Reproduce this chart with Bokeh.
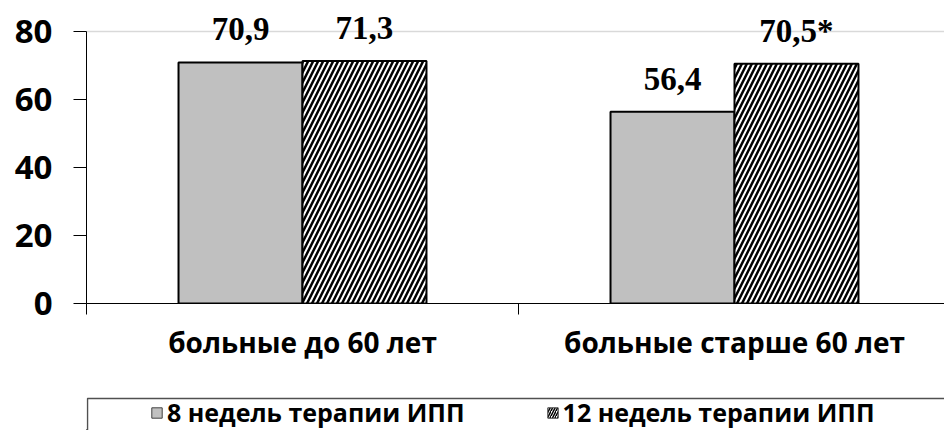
from bokeh.plotting import figure
from bokeh.models import (Range1d, FixedTicker, ColumnDataSource, LabelSet,
                          Legend, LegendItem)
from bokeh.layouts import column
from bokeh.embed import file_html
from bokeh.resources import INLINE

# ---- data ----
categories = ["больные до 60 лет", "больные старше 60 лет"]
series = ["8 недель терапии ИПП", "12 недель терапии ИПП"]
values_8w = [70.9, 56.4]
values_12w = [71.3, 70.5]
marks_8w = ["", ""]
marks_12w = ["", "*"]
y_ticks = [0, 20, 40, 60, 80]

SANS = "Open Sans"
SERIF = "Liberation Serif"
BAR_W = 0.287

n = len(categories)
centers = [i + 0.5 for i in range(n)]

p = figure(width=944, height=394, x_range=Range1d(0, 858 / 432),
           y_range=Range1d(0, 303 / 3.4), output_backend="svg",
           toolbar_location=None,
           min_border_left=86, min_border_right=0, min_border_top=0,
           min_border_bottom=91)
p.outline_line_color = None
p.xgrid.visible = False
p.ygrid.ticker = FixedTicker(ticks=[80])
p.ygrid.grid_line_color = "#d9d9d9"
p.ygrid.grid_line_width = 1.5

def fmt(v, m):
    return f"{v:.1f}".replace(".", ",") + m

src8 = ColumnDataSource(dict(x=[c - BAR_W / 2 for c in centers], top=values_8w,
                             lab=[fmt(v, m) for v, m in zip(values_8w, marks_8w)]))
src12 = ColumnDataSource(dict(x=[c + BAR_W / 2 for c in centers], top=values_12w,
                              lab=[fmt(v, m) for v, m in zip(values_12w, marks_12w)]))

p.vbar(x="x", top="top", width=BAR_W, source=src8, fill_color="#c0c0c0",
       line_color="black", line_width=2)
p.vbar(x="x", top="top", width=BAR_W, source=src12, fill_color="white",
       line_color="black", line_width=2, hatch_pattern="/", hatch_color="black",
       hatch_weight=2.5, hatch_scale=10)

for s in (src8, src12):
    p.add_layout(LabelSet(x="x", y="top", text="lab", source=s, y_offset=22,
                          text_align="center", text_baseline="alphabetic",
                          text_font=SERIF, text_font_style="bold",
                          text_font_size="33px", text_color="black"))

# x axis
xa = p.xaxis[0]
xa.ticker = FixedTicker(ticks=centers, minor_ticks=[0, 1, 2])
xa.major_label_overrides = {c: cat for c, cat in zip(centers, categories)}
xa.major_tick_line_color = None
xa.major_tick_out = 0
xa.major_tick_in = 0
xa.minor_tick_line_color = "black"
xa.minor_tick_out = 11
xa.minor_tick_in = 0
xa.axis_line_color = "black"
xa.major_label_standoff = 8
xa.major_label_text_font = SANS
xa.major_label_text_font_style = "bold"
xa.major_label_text_font_size = "28px"
xa.major_label_text_color = "black"

# y axis
ya = p.yaxis[0]
ya.ticker = FixedTicker(ticks=y_ticks)
ya.bounds = (0, 80)
ya.major_tick_out = 13
ya.major_tick_in = 0
ya.minor_tick_line_color = None
ya.axis_line_color = "black"
ya.major_tick_line_color = "black"
ya.major_label_standoff = 21
ya.major_label_text_font = SANS
ya.major_label_text_font_style = "bold"
ya.major_label_text_font_size = "33px"
ya.major_label_text_color = "black"

# ---- legend strip ----
p2 = figure(width=944, height=36, x_range=Range1d(86, 944), y_range=Range1d(0, 36),
            output_backend="svg", toolbar_location=None,
            x_axis_location=None, y_axis_location=None,
            min_border_left=86, min_border_right=0, min_border_top=0,
            min_border_bottom=0)
p2.outline_line_color = None
p2.grid.visible = False
p2.quad(left=[87], right=[1200], top=[32], bottom=[-30], fill_color="white",
        line_color="#505050", line_width=1.5)
d8 = p2.vbar(x=[0], top=[1], width=1, fill_color="#c0c0c0", line_color="#404040",
             line_width=1)
d12 = p2.vbar(x=[0], top=[1], width=1, fill_color="white", line_color="#404040",
              line_width=1, hatch_pattern="/", hatch_color="black",
              hatch_weight=1.5, hatch_scale=5)
leg = Legend(items=[LegendItem(label=series[0], renderers=[d8]),
                    LegendItem(label=series[1], renderers=[d12])],
             orientation="horizontal", location=(64, 1), padding=0, margin=0,
             glyph_width=13, glyph_height=13, label_standoff=4, spacing=81,
             border_line_color=None, background_fill_alpha=0,
             label_text_font=SANS, label_text_font_style="bold",
             label_text_font_size="25px", label_text_color="black")
p2.add_layout(leg)

layout = column(p, p2, spacing=0)
open("out.html", "w").write(file_html(layout, INLINE))
